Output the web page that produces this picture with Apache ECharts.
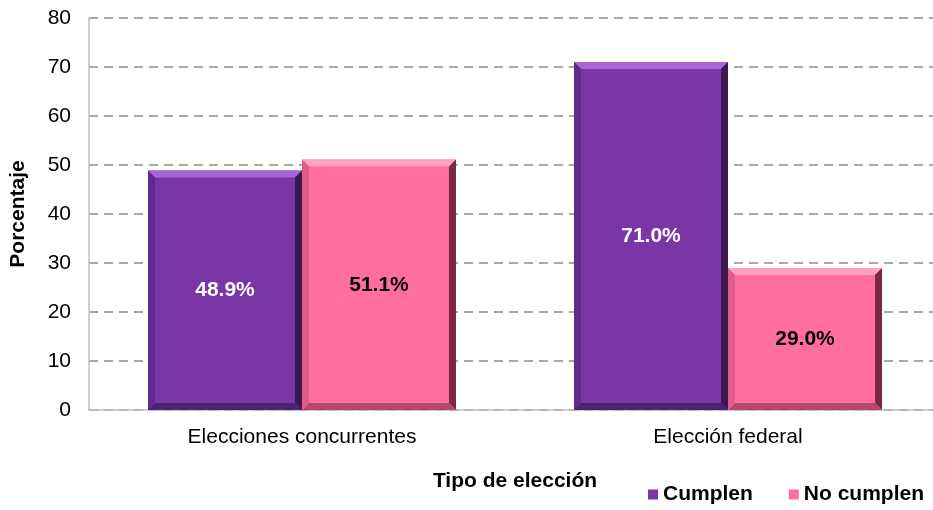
<!DOCTYPE html>
<html>
<head>
<meta charset="utf-8">
<script src="https://cdn.jsdelivr.net/npm/echarts@6/dist/echarts.min.js"></script>
<style>
    html, body { margin: 0; padding: 0; background: #fff; overflow: hidden; }
    #chart { width: 945px; height: 510px; }
</style>
</head>
<body>
<div id="chart"></div>
<script>
const categories = ['Elecciones concurrentes', 'Elección federal'];
const cumplen = [48.9, 71.0];
const noCumplen = [51.1, 29.0];
const seriesNames = ['Cumplen', 'No cumplen'];
const yTicks = [0, 10, 20, 30, 40, 50, 60, 70, 80];

const FONT = '"Liberation Sans", Arial, sans-serif';
const BAR_W = 154;
const BEVEL = 7;

// main, top, right, bottom, left faces
const palettes = [
    { main: '#7936A6', top: '#A865D4', right: '#3A1852', bottom: '#4E2270', left: '#60298A', text: '#ffffff' },
    { main: '#FF6E9F', top: '#FFA0C4', right: '#7A2846', bottom: '#B8466F', left: '#E05C8A', text: '#000000' }
];

function makeRenderer(seriesIdx) {
    let pal = palettes[seriesIdx];
    return function (params, api) {
        let cat = api.value(0);
        let val = api.value(1);
        let top = api.coord([cat, val]);
        let base = api.coord([cat, 0]);
        let x0 = seriesIdx === 0 ? top[0] - BAR_W : top[0];
        let x1 = x0 + BAR_W;
        let y0 = top[1];
        let y1 = base[1];
        let b = BEVEL;
        return {
            type: 'group',
            children: [
                { type: 'rect', shape: { x: x0, y: y0, width: BAR_W, height: y1 - y0 }, style: { fill: pal.main } },
                { type: 'polygon', shape: { points: [[x0, y0], [x1, y0], [x1 - b, y0 + b], [x0 + b, y0 + b]] }, style: { fill: pal.top } },
                { type: 'polygon', shape: { points: [[x1, y0], [x1, y1], [x1 - b, y1 - b], [x1 - b, y0 + b]] }, style: { fill: pal.right } },
                { type: 'polygon', shape: { points: [[x0, y1], [x1, y1], [x1 - b, y1 - b], [x0 + b, y1 - b]] }, style: { fill: pal.bottom } },
                { type: 'polygon', shape: { points: [[x0, y0], [x0 + b, y0 + b], [x0 + b, y1 - b], [x0, y1]] }, style: { fill: pal.left } },
                {
                    type: 'text',
                    style: {
                        x: (x0 + x1) / 2, y: (y0 + y1) / 2,
                        text: val.toFixed(1) + '%',
                        fill: pal.text, font: 'bold 21px ' + FONT,
                        align: 'center', verticalAlign: 'middle'
                    }
                }
            ]
        };
    };
}

const chart = echarts.init(document.getElementById('chart'));

chart.setOption({
    animation: false,
    backgroundColor: '#ffffff',
    textStyle: { fontFamily: FONT },
    grid: { left: 89, top: 18, width: 852, height: 392, containLabel: false },
    legend: {
        data: seriesNames,
        right: 16, bottom: 0,
        icon: 'rect', itemWidth: 10, itemHeight: 10, itemGap: 36,
        textStyle: { fontSize: 21, fontWeight: 'bold', color: '#000', fontFamily: FONT }
    },
    xAxis: {
        type: 'category',
        data: categories,
        name: 'Tipo de elección',
        nameLocation: 'middle',
        nameGap: 61,
        nameTextStyle: { fontSize: 21, fontWeight: 'bold', color: '#000', fontFamily: FONT },
        axisLine: { lineStyle: { color: '#BFBFBF', width: 1.5 } },
        axisTick: { show: false },
        axisLabel: { fontSize: 21, color: '#000', margin: 17, fontFamily: FONT }
    },
    yAxis: {
        type: 'value',
        min: yTicks[0], max: yTicks[yTicks.length - 1], interval: 10,
        name: 'Porcentaje',
        nameLocation: 'middle',
        nameGap: 60,
        nameRotate: 90,
        nameTextStyle: { fontSize: 21, fontWeight: 'bold', color: '#000', fontFamily: FONT },
        axisLine: { show: true, lineStyle: { color: '#BFBFBF', width: 1.5 } },
        axisTick: { show: false },
        axisLabel: { fontSize: 21, color: '#000', margin: 18, fontFamily: FONT },
        splitLine: { lineStyle: { color: '#8C8C8C', width: 1.5, type: [9, 6] } }
    },
    series: [
        {
            name: seriesNames[0], type: 'custom',
            itemStyle: { color: palettes[0].main },
            renderItem: makeRenderer(0),
            data: cumplen.map((v, i) => [i, v])
        },
        {
            name: seriesNames[1], type: 'custom',
            itemStyle: { color: palettes[1].main },
            renderItem: makeRenderer(1),
            data: noCumplen.map((v, i) => [i, v])
        }
    ]
});
</script>
</body>
</html>
